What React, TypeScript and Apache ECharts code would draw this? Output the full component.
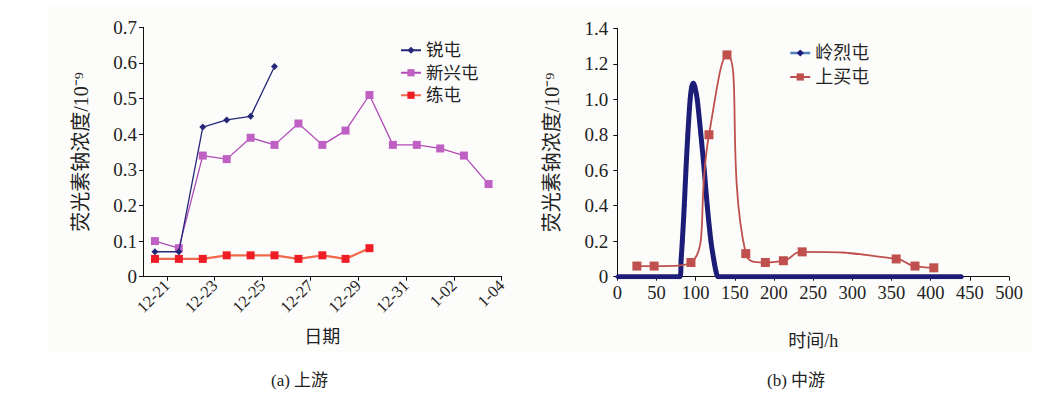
import React, { useEffect, useRef } from "react";
import * as echarts from "echarts";

// ---- (a) upstream ----
const xTickDays = [1, 3, 5, 7, 9, 11, 13, 15];
const xTickLabels = ["12-21", "12-23", "12-25", "12-27", "12-29", "12-31", "1-02", "1-04"];
const sampleDays = [0.5, 1.5, 2.5, 3.5, 4.5, 5.5, 6.5, 7.5, 8.47, 9.47, 10.45, 11.45, 12.43, 13.42, 14.45];
const ruiTun = [0.07, 0.07, 0.42, 0.44, 0.45, 0.59];
const xinXingTun = [0.1, 0.08, 0.34, 0.33, 0.39, 0.37, 0.43, 0.37, 0.41, 0.51, 0.37, 0.37, 0.36, 0.34, 0.26];
const lianTun = [0.05, 0.05, 0.05, 0.06, 0.06, 0.06, 0.05, 0.06, 0.05, 0.08];

// ---- (b) midstream ----
const lingHours = [0, 80, 81.5, 83, 85.5, 87.6, 90, 93, 95, 97, 99, 102, 106.7, 111, 114.8, 119.5, 123, 126, 129, 440];
const lingValues = [0, 0, 0.1, 0.2, 0.4, 0.6, 0.8, 1.0, 1.07, 1.09, 1.07, 1.0, 0.8, 0.6, 0.4, 0.2, 0.1, 0.03, 0, 0];
const shangHours = [25, 47, 94, 117, 140, 164, 189, 212, 236, 356, 380, 404];
const shangValues = [0.06, 0.06, 0.08, 0.8, 1.25, 0.13, 0.08, 0.09, 0.14, 0.1, 0.06, 0.05];

const FONT = "'Liberation Serif', 'Noto Sans CJK SC', serif";
const TXT = "#222";

const zip = (xs: number[], ys: number[]) => ys.map((y, i) => [xs[i], y]);
const fmt1 = (v: number) => (Math.abs(v) < 1e-9 ? "0" : v.toFixed(1));

export default function App() {
  const ref = useRef<HTMLDivElement>(null);
  useEffect(() => {
    document.body.style.margin = "0";
    const chart = echarts.init(ref.current!, null, { renderer: "svg" });
    const axisLine = { show: true, lineStyle: { color: "#111", width: 1 } };
    const axisTick = { show: true, inside: false, length: 4, lineStyle: { color: "#111" } };
    chart.setOption({
      animation: false,
      backgroundColor: "#fff",
      graphic: [
        { type: "rect", z: -10, shape: { x: 48, y: 6, width: 984, height: 347 }, style: { fill: "#fcfcfa" } },
        { type: "text", left: 271, top: 372, style: { text: "(a) 上游", font: `17px ${FONT}`, fill: TXT } },
        { type: "text", left: 767, top: 372, style: { text: "(b) 中游", font: `17px ${FONT}`, fill: TXT } },
      ],
      grid: [
        { left: 143, top: 27.3, width: 358.7, height: 249.4 },
        { left: 617.3, top: 28.3, width: 391.7, height: 248.4 },
      ],
      legend: [
        {
          orient: "vertical",
          left: 400,
          top: 40.5,
          padding: 0,
          itemWidth: 20,
          itemHeight: 9,
          itemGap: 3,
          textStyle: { fontSize: 17.5, lineHeight: 19.5, color: TXT, fontFamily: FONT },
          data: ["锐屯", "新兴屯", "练屯"],
        },
        {
          orient: "vertical",
          left: 789,
          top: 43,
          padding: 0,
          itemWidth: 20,
          itemHeight: 9,
          itemGap: 4,
          textStyle: { fontSize: 18, lineHeight: 20, color: TXT, fontFamily: FONT },
          data: [
            { name: "岭烈屯", lineStyle: { color: "#4f81bd", width: 2.5 }, itemStyle: { color: "#1d1d78" } },
            { name: "上买屯" },
          ],
        },
      ],
      xAxis: [
        {
          type: "value",
          gridIndex: 0,
          min: 0,
          max: 15,
          splitLine: { show: false },
          axisLine,
          axisTick: { ...axisTick, customValues: xTickDays },
          axisLabel: {
            customValues: xTickDays,
            rotate: 45,
            margin: 6,
            fontSize: 16.5,
            color: TXT,
            fontFamily: FONT,
            formatter: (v: number) => xTickLabels[xTickDays.indexOf(Math.round(v))] ?? "",
          },
          name: "日期",
          nameLocation: "middle",
          nameGap: 51,
          nameTextStyle: { fontSize: 18, color: TXT, fontFamily: FONT },
        },
        {
          type: "value",
          gridIndex: 1,
          min: 0,
          max: 500,
          interval: 50,
          splitLine: { show: false },
          axisLine,
          axisTick,
          axisLabel: { margin: 7, fontSize: 18.5, color: TXT, fontFamily: FONT },
          name: "时间/h",
          nameLocation: "middle",
          nameGap: 55,
          nameTextStyle: { fontSize: 18, color: TXT, fontFamily: FONT },
        },
      ],
      yAxis: [
        {
          type: "value",
          gridIndex: 0,
          min: 0,
          max: 0.7,
          interval: 0.1,
          splitLine: { show: false },
          axisLine,
          axisTick,
          axisLabel: { margin: 6, fontSize: 19, color: TXT, fontFamily: FONT, formatter: fmt1 },
          name: "荧光素钠浓度/10⁻⁹",
          nameLocation: "middle",
          nameRotate: 90,
          nameGap: 52,
          nameTextStyle: { fontSize: 20, color: TXT, fontFamily: FONT },
        },
        {
          type: "value",
          gridIndex: 1,
          min: 0,
          max: 1.4,
          interval: 0.2,
          splitLine: { show: false },
          axisLine,
          axisTick,
          axisLabel: { margin: 9, fontSize: 19, color: TXT, fontFamily: FONT, formatter: fmt1 },
          name: "荧光素钠浓度/10⁻⁹",
          nameLocation: "middle",
          nameRotate: 90,
          nameGap: 55,
          nameTextStyle: { fontSize: 20, color: TXT, fontFamily: FONT },
        },
      ],
      series: [
        {
          name: "锐屯",
          type: "line",
          xAxisIndex: 0,
          yAxisIndex: 0,
          data: zip(sampleDays, ruiTun),
          symbol: "diamond",
          symbolSize: 7,
          color: "#262679",
          lineStyle: { width: 1.3, color: "#262679" },
          z: 4,
        },
        {
          name: "新兴屯",
          type: "line",
          xAxisIndex: 0,
          yAxisIndex: 0,
          data: zip(sampleDays, xinXingTun),
          symbol: "rect",
          symbolSize: 8,
          color: "#c060c4",
          lineStyle: { width: 1.3, color: "#b04ab6" },
          z: 3,
        },
        {
          name: "练屯",
          type: "line",
          xAxisIndex: 0,
          yAxisIndex: 0,
          data: zip(sampleDays, lianTun),
          symbol: "rect",
          symbolSize: 8,
          color: "#ee1c24",
          lineStyle: { width: 2.2, color: "#f2684c" },
          z: 3,
        },
        {
          name: "岭烈屯",
          type: "line",
          xAxisIndex: 1,
          yAxisIndex: 1,
          data: zip(lingHours, lingValues),
          smooth: 0.3,
          symbol: "diamond",
          symbolSize: 5,
          color: "#1d1d78",
          lineStyle: { width: 5, color: "#1d1d78" },
          z: 3,
        },
        {
          name: "上买屯",
          type: "line",
          xAxisIndex: 1,
          yAxisIndex: 1,
          data: zip(shangHours, shangValues),
          smooth: 0.55,
          symbol: "rect",
          symbolSize: 9,
          color: "#c0504d",
          lineStyle: { width: 1.8, color: "#c0504d" },
          z: 4,
        },
      ],
    });
    return () => chart.dispose();
  }, []);
  return <div ref={ref} style={{ width: 1039, height: 395 }} />;
}
